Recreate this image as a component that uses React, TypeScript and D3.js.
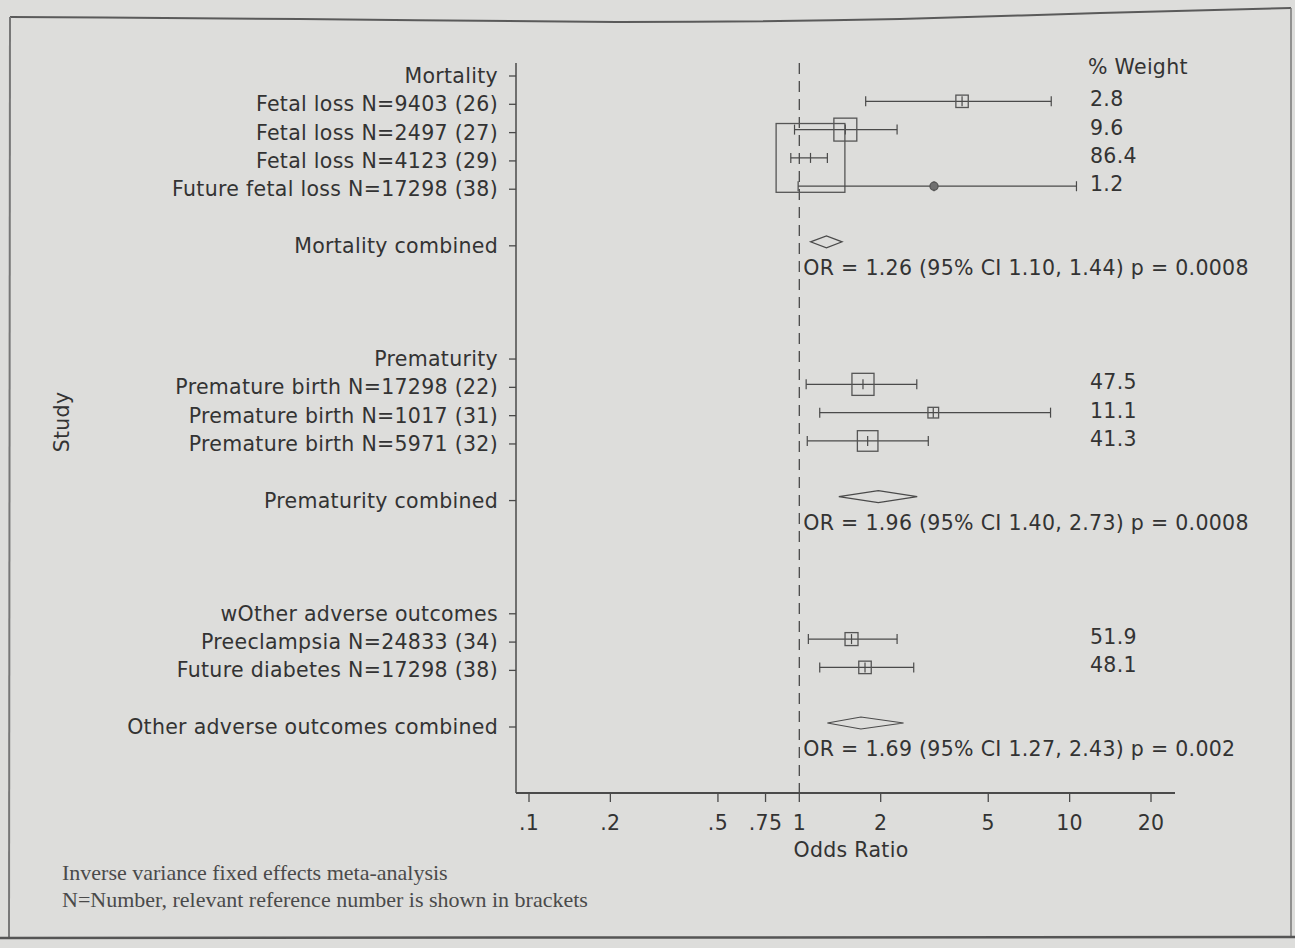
import React from "react";
import * as d3 from "d3";

// ---------- data ----------
const rowLabels: string[] = [
  "Mortality",
  "Fetal loss N=9403 (26)",
  "Fetal loss N=2497 (27)",
  "Fetal loss N=4123 (29)",
  "Future fetal loss N=17298 (38)",
  "",
  "Mortality combined",
  "",
  "",
  "",
  "Prematurity",
  "Premature birth N=17298 (22)",
  "Premature birth N=1017 (31)",
  "Premature birth N=5971 (32)",
  "",
  "Prematurity combined",
  "",
  "",
  "",
  "wOther adverse outcomes",
  "Preeclampsia N=24833 (34)",
  "Future diabetes N=17298 (38)",
  "",
  "Other adverse outcomes combined",
];

// individual studies
const studyRow = [1, 2, 3, 4, 11, 12, 13, 20, 21];
const studyGroup = [0, 0, 0, 0, 1, 1, 1, 2, 2];
const studyOR = [4.0, 1.48, 1.1, 3.15, 1.72, 3.13, 1.79, 1.56, 1.75];
const studyLo = [1.76, 0.96, 0.93, 0.99, 1.06, 1.19, 1.07, 1.08, 1.19];
const studyHi = [8.55, 2.3, 1.27, 10.6, 2.72, 8.5, 3.0, 2.3, 2.65];
const studyWeight = ["2.8", "9.6", "86.4", "1.2", "47.5", "11.1", "41.3", "51.9", "48.1"];

// pooled estimates
const pooledRow = [6, 15, 23];
const pooledOR = [1.26, 1.96, 1.69];
const pooledLo = [1.1, 1.4, 1.27];
const pooledHi = [1.44, 2.73, 2.43];
const pooledText = [
  "OR = 1.26 (95% CI 1.10, 1.44) p = 0.0008",
  "OR = 1.96 (95% CI 1.40, 2.73) p = 0.0008",
  "OR = 1.69 (95% CI 1.27, 2.43) p = 0.002",
];

const xTicks = [0.1, 0.2, 0.5, 0.75, 1, 2, 5, 10, 20];
const xTickLabels = [".1", ".2", ".5", ".75", "1", "2", "5", "10", "20"];

const footnotes = [
  "Inverse variance fixed effects meta-analysis",
  "N=Number, relevant reference number is shown in brackets",
];

// ---------- styling ----------
const W = 1295;
const H = 948;
const BG = "#dddddb";
const INK = "#333333";
const LINE = "#4a4a4a";
const SANS = "'DejaVu Sans', 'Open Sans', sans-serif";
const SERIF = "'Liberation Serif', 'DejaVu Serif', serif";
const FS = 20.5;
const LS = 0.3;
const groupBoxScale = [7.4, 3.2, 1.8];

export default function App() {
  const x = d3.scaleLog().domain([0.1, 20]).range([529, 1151]);
  const y = d3.scaleLinear().domain([0, 23]).range([76, 727]);
  const axisY = 793;
  const yAxisX = 516;
  const axisRight = 1175;
  const markOff = -3;

  const framePath = d3.line().curve(d3.curveMonotoneX)([
    [10, 17],
    [300, 19],
    [620, 22],
    [900, 19],
    [1100, 13],
    [1291, 8],
  ]) as string;

  const txt = {
    fontFamily: SANS,
    fontSize: FS,
    fill: INK,
    letterSpacing: LS,
  } as const;

  return (
    <svg
      width={W}
      height={H}
      style={{ position: "absolute", left: 0, top: 0, background: BG }}
    >
      <rect x={0} y={0} width={W} height={H} fill={BG} />
      {/* frame */}
      <path d={framePath} fill="none" stroke="#5a5a5a" strokeWidth={2} />
      <line x1={10} y1={17} x2={9} y2={938} stroke="#777" strokeWidth={2} />
      <line x1={1291} y1={8} x2={1291} y2={938} stroke="#777" strokeWidth={1.5} />
      <line x1={0} y1={938} x2={W} y2={937} stroke="#555" strokeWidth={2.5} />

      {/* y axis */}
      <line x1={yAxisX} y1={63} x2={yAxisX} y2={axisY} stroke={LINE} strokeWidth={1.5} />
      {rowLabels.map((lab, i) =>
        lab ? (
          <g key={"r" + i}>
            <line x1={yAxisX - 7} x2={yAxisX} y1={y(i)} y2={y(i)} stroke={LINE} strokeWidth={1.3} />
            <text x={yAxisX - 18} y={y(i)} textAnchor="end" dominantBaseline="central" {...txt}>
              {lab}
            </text>
          </g>
        ) : null
      )}
      <text
        transform={`translate(62,${422}) rotate(-90)`}
        textAnchor="middle"
        dominantBaseline="central"
        {...txt}
      >
        Study
      </text>

      {/* x axis */}
      <line x1={yAxisX} x2={axisRight} y1={axisY} y2={axisY} stroke={LINE} strokeWidth={2} />
      {xTicks.map((t, i) => (
        <g key={"t" + i}>
          <line x1={x(t)} x2={x(t)} y1={axisY} y2={axisY + 9} stroke={LINE} strokeWidth={1.3} />
          <text x={x(t)} y={axisY + 30} textAnchor="middle" dominantBaseline="central" {...txt}>
            {xTickLabels[i]}
          </text>
        </g>
      ))}
      <text x={851} y={850} textAnchor="middle" dominantBaseline="central" {...txt}>
        Odds Ratio
      </text>

      {/* null line */}
      <line
        x1={x(1)}
        x2={x(1)}
        y1={63}
        y2={axisY}
        stroke={LINE}
        strokeWidth={1.3}
        strokeDasharray="11 7"
      />

      {/* weight header */}
      <text x={1088} y={y(0) - 9} dominantBaseline="central" {...txt}>
        % Weight
      </text>

      {/* studies */}
      {studyOR.map((or, i) => {
        const cy = y(studyRow[i]) + markOff;
        const side = groupBoxScale[studyGroup[i]] * Math.sqrt(+studyWeight[i]);
        const small = side < 10;
        return (
          <g key={"s" + i} stroke={LINE} strokeWidth={1.2} fill="none">
            <line x1={x(studyLo[i])} x2={x(studyHi[i])} y1={cy} y2={cy} />
            <line x1={x(studyLo[i])} x2={x(studyLo[i])} y1={cy - 5} y2={cy + 5} />
            <line x1={x(studyHi[i])} x2={x(studyHi[i])} y1={cy - 5} y2={cy + 5} />
            <line x1={x(or)} x2={x(or)} y1={cy - 5} y2={cy + 5} />
            <rect
              x={x(or) - side / 2}
              y={cy - side / 2}
              width={side}
              height={side}
              rx={small ? side / 2 : 0}
              fill={small ? "#707070" : "none"}
              stroke="#555"
              strokeWidth={1.3}
            />
            <text x={1090} y={cy - 2} dominantBaseline="central" {...txt} stroke="none">
              {studyWeight[i]}
            </text>
          </g>
        );
      })}

      {/* pooled */}
      {pooledOR.map((or, i) => {
        const cy = y(pooledRow[i]) - 4;
        const pts: [number, number][] = [
          [x(pooledLo[i]), cy],
          [x(or), cy - 6],
          [x(pooledHi[i]), cy],
          [x(or), cy + 6],
        ];
        return (
          <g key={"p" + i}>
            <polygon points={pts.map((p) => p.join(",")).join(" ")} fill="none" stroke={LINE} strokeWidth={1.2} />
            <text x={x(1) + 4} y={y(pooledRow[i]) + 22} dominantBaseline="central" {...txt}>
              {pooledText[i]}
            </text>
          </g>
        );
      })}

      {/* footnotes */}
      {footnotes.map((f, i) => (
        <text
          key={"f" + i}
          x={62}
          y={872 + i * 27}
          dominantBaseline="central"
          fontFamily={SERIF}
          fontSize={22}
          fill="#4a4a4a"
        >
          {f}
        </text>
      ))}
    </svg>
  );
}
